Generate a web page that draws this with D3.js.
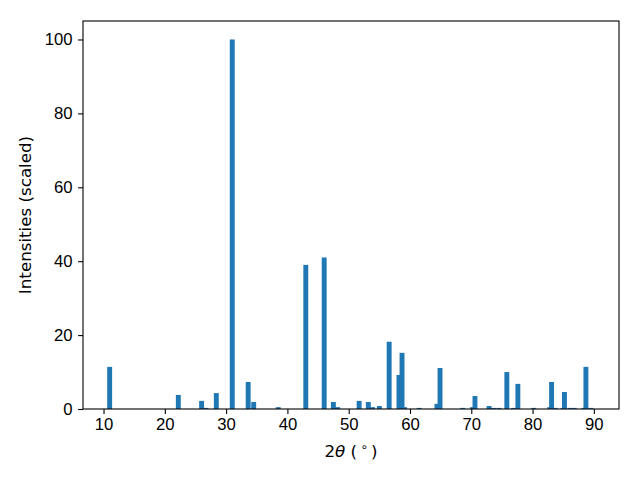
<!DOCTYPE html>
<html>
<head>
<meta charset="utf-8">
<script src="https://cdn.jsdelivr.net/npm/d3@7"></script>
<style>
  body { margin: 0; background: #fff; }
  svg { font-family: "DejaVu Sans", sans-serif; }
  .axis text { font-size: 16.7px; fill: #000; }
  .axis path, .axis line { stroke: #000; stroke-width: 1.1px; }
</style>
</head>
<body>
<svg width="640" height="480"></svg>
<script>
// peak positions (2theta, degrees) and scaled intensities
var angles = [11.0, 22.2, 26.0, 26.7, 28.4, 31.0, 33.6, 34.5, 38.5, 43.0,
              46.0, 47.5, 48.2, 51.7, 53.2, 53.9, 55.0, 56.6, 58.2, 58.7,
              59.1, 61.5, 64.4, 64.9, 68.6, 70.2, 70.6, 72.9, 73.6, 74.5,
              75.8, 76.9, 77.6, 80.2, 82.8, 83.1, 83.7, 85.0, 85.2, 86.1,
              86.8, 88.4, 88.7, 89.5];
var intensities = [11.4, 3.8, 2.2, 0.3, 4.3, 100, 7.3, 1.9, 0.5, 39,
                   41, 1.9, 0.5, 2.2, 1.9, 0.5, 0.8, 18.2, 9.2, 15.2,
                   0.5, 0.3, 1.4, 11.1, 0.3, 0.5, 3.5, 0.8, 0.3, 0.3,
                   10.0, 0.3, 6.8, 0.3, 0.5, 7.3, 0.3, 0.3, 4.6, 0.3,
                   0.3, 0.3, 11.4, 0.3];
var xTicks = [10, 20, 30, 40, 50, 60, 70, 80, 90];
var yTicks = [0, 20, 40, 60, 80, 100];
var barWidth = 0.8;

var svg = d3.select("svg"),
    margin = {top: 21, right: 21, bottom: 71, left: 83},
    width = 640 - margin.left - margin.right,
    height = 480 - margin.top - margin.bottom,
    g = svg.append("g").attr("transform", "translate(" + margin.left + "," + margin.top + ")");

var x = d3.scaleLinear().domain([6.65, 94.1]).range([0, width]),
    y = d3.scaleLinear().domain([0, 105]).range([height, 0]);

var data = angles.map(function(a, i) { return {angle: a, value: intensities[i]}; });

// bars
g.selectAll(".bar")
  .data(data)
  .enter().append("rect")
    .attr("class", "bar")
    .attr("x", function(d) { return x(d.angle - barWidth / 2); })
    .attr("width", function(d) { return x(d.angle + barWidth / 2) - x(d.angle - barWidth / 2); })
    .attr("y", function(d) { return y(d.value); })
    .attr("height", function(d) { return height - y(d.value); })
    .attr("fill", "#1f77b4");

// axes
g.append("g")
  .attr("class", "axis")
  .attr("transform", "translate(0," + height + ")")
  .call(d3.axisBottom(x).tickValues(xTicks).tickSizeOuter(0).tickSize(4.9).tickPadding(4.5))
  .call(function(a) { a.select(".domain").remove(); });

g.append("g")
  .attr("class", "axis")
  .call(d3.axisLeft(y).tickValues(yTicks).tickSizeOuter(0).tickSize(4.9).tickPadding(5.5))
  .call(function(a) { a.select(".domain").remove(); });

// frame
g.append("rect")
  .attr("width", width)
  .attr("height", height)
  .attr("fill", "none")
  .attr("stroke", "#000")
  .attr("stroke-width", 1.1);

// y label
g.append("text")
  .attr("transform", "rotate(-90)")
  .attr("x", -height / 2)
  .attr("y", -52)
  .style("text-anchor", "middle")
  .style("font-size", "16.7px")
  .text("Intensities (scaled)");

// x label: 2θ (°)
var xl = g.append("text")
  .attr("x", width / 2)
  .attr("y", height + 48)
  .style("text-anchor", "middle")
  .style("font-size", "16.7px");
xl.append("tspan").text("2");
xl.append("tspan").style("font-style", "italic").text("\u03b8");
xl.append("tspan").text(" (\u2009");
xl.append("tspan").attr("dy", -6).style("font-size", "11.7px").text("\u2218");
xl.append("tspan").attr("dy", 6).text("\u2009)");
</script>
</body>
</html>
